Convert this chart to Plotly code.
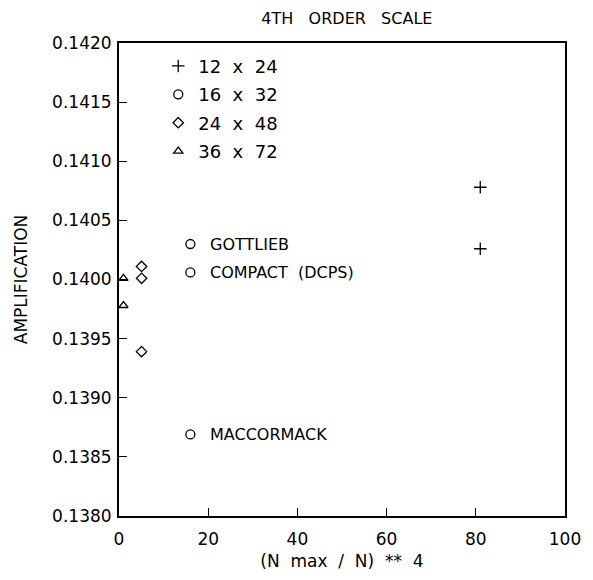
import plotly.graph_objects as go

# Data
x_12x24 = [81, 81]
y_12x24 = [0.14078, 0.14026]
x_16x32 = [16, 16, 16]
y_16x32 = [0.14030, 0.14006, 0.13869]
x_24x48 = [5.06, 5.06, 5.06]
y_24x48 = [0.14011, 0.14001, 0.13939]
x_36x72 = [1, 1]
y_36x72 = [0.14001, 0.13978]

method_labels = ["GOTTLIEB", "COMPACT (DCPS)", "MACCORMACK"]
label_x = 20
label_y = [0.14030, 0.14006, 0.13869]

series = [
    ("12 x 24", x_12x24, y_12x24, "cross-thin-open", 9),
    ("16 x 32", x_16x32, y_16x32, "circle-open", 9),
    ("24 x 48", x_24x48, y_24x48, "diamond-open", 8),
    ("36 x 72", x_36x72, y_36x72, "triangle-up-open", 8),
]

FONT = "DejaVu Sans"
NB = "\u00a0"

fig = go.Figure()
for i, (name, xs, ys, sym, sz) in enumerate(series):
    fig.add_trace(go.Scatter(
        x=xs, y=ys, mode="markers", name=name.replace(" ", NB * 2),
        legendgroup=str(i),
        marker=dict(symbol=sym, size=sz, color="black",
                    line=dict(color="black", width=1.3)),
    ))

for t, yv in zip(method_labels, label_y):
    fig.add_annotation(x=label_x, y=yv, text=t.replace(" ", NB * 2), showarrow=False,
                       xanchor="left", yanchor="middle",
                       font=dict(family=FONT, size=16, color="black"))

fig.update_layout(
    width=593, height=580,
    margin=dict(l=119, r=19, t=43, b=62),
    paper_bgcolor="white", plot_bgcolor="white",
    font=dict(family=FONT, size=17, color="black"),
    title=dict(text="4TH" + NB * 3 + "ORDER" + NB * 3 + "SCALE", x=0.585, xanchor="center",
               y=0.969, yanchor="middle", font=dict(size=16)),
    showlegend=True,
    legend=dict(x=0.088, y=0.99, xanchor="left", yanchor="top",
                bgcolor="rgba(0,0,0,0)", font=dict(size=18),
                itemwidth=30, tracegroupgap=2),
    xaxis=dict(range=[0, 100], tickvals=[0, 20, 40, 60, 80, 100],
               ticks="inside", ticklen=8, tickwidth=1.2, tickcolor="black",
               ticklabelstandoff=7,
               showline=True, linecolor="black", linewidth=2, mirror=True,
               showgrid=False, zeroline=False,
               title=dict(text="(N" + NB * 2 + "max" + NB * 2 + "/" + NB * 2 + "N)" + NB * 2 + "**" + NB * 2 + "4",
                          standoff=7, font=dict(size=17))),
    yaxis=dict(range=[0.1380, 0.1420], dtick=0.0005, tickformat=".4f",
               ticks="inside", ticklen=8, tickwidth=1.2, tickcolor="black",
               ticklabelstandoff=2,
               showline=True, linecolor="black", linewidth=2, mirror=True,
               showgrid=False, zeroline=False,
               title=dict(text="AMPLIFICATION", standoff=20, font=dict(size=17))),
)

fig.write_html("out.html")
